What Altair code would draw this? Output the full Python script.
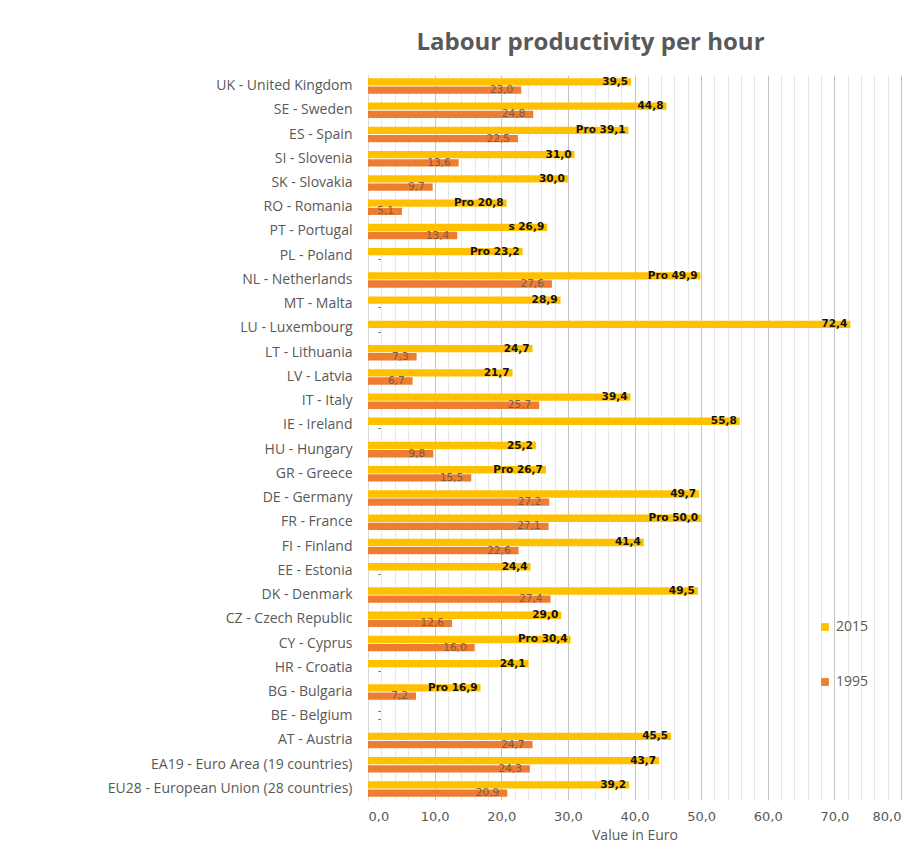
import altair as alt
import pandas as pd

categories = [
    "UK - United Kingdom", "SE - Sweden", "ES - Spain", "SI - Slovenia", "SK - Slovakia",
    "RO - Romania", "PT - Portugal", "PL - Poland", "NL - Netherlands", "MT - Malta",
    "LU - Luxembourg", "LT - Lithuania", "LV - Latvia", "IT - Italy", "IE - Ireland",
    "HU - Hungary", "GR - Greece", "DE - Germany", "FR - France", "FI - Finland",
    "EE - Estonia", "DK - Denmark", "CZ - Czech Republic", "CY - Cyprus", "HR - Croatia",
    "BG - Bulgaria", "BE - Belgium", "AT - Austria", "EA19 - Euro Area (19 countries)",
    "EU28 - European Union (28 countries)",
]
values_2015 = [39.5, 44.8, 39.1, 31.0, 30.0, 20.8, 26.9, 23.2, 49.9, 28.9,
               72.4, 24.7, 21.7, 39.4, 55.8, 25.2, 26.7, 49.7, 50.0, 41.4,
               24.4, 49.5, 29.0, 30.4, 24.1, 16.9, None, 45.5, 43.7, 39.2]
flags_2015 = ["", "", "Pro ", "", "", "Pro ", "s ", "Pro ", "Pro ", "",
              "", "", "", "", "", "", "Pro ", "", "Pro ", "",
              "", "", "", "Pro ", "", "Pro ", "", "", "", ""]
values_1995 = [23.0, 24.8, 22.5, 13.6, 9.7, 5.1, 13.4, None, 27.6, None,
               None, 7.3, 6.7, 25.7, None, 9.8, 15.5, 27.2, 27.1, 22.6,
               None, 27.4, 12.6, 16.0, None, 7.2, None, 24.7, 24.3, 20.9]
years = ["2015", "1995"]
colors = ["#FFC000", "#ED7D31"]

rows = []
for i, c in enumerate(categories):
    for yr, vals, flags in (("2015", values_2015, flags_2015), ("1995", values_1995, None)):
        v = vals[i]
        if v is None:
            rows.append({"country": c, "year": yr, "value": 0.0, "has": False, "label": "-"})
        else:
            lab = f"{v:.1f}".replace(".", ",")
            if flags is not None:
                lab = flags[i] + lab
            rows.append({"country": c, "year": yr, "value": v, "has": True, "label": lab})
df = pd.DataFrame(rows)

FONT = "Open Sans"
NUMFONT = "DejaVu Sans"
GRAY = "#595959"

y_enc = alt.Y("country:N", sort=categories,
              scale=alt.Scale(paddingInner=0.36, paddingOuter=0.135),
              axis=alt.Axis(title=None, ticks=False, domain=True, domainColor="#d9d9d9",
                            labelColor=GRAY, labelFontSize=14, labelFont=FONT, labelLimit=0,
                            labelPadding=16, grid=False))
yoff = alt.YOffset("year:N", sort=years, scale=alt.Scale(paddingInner=0.1))

x_vals = list(range(0, 81, 2))
x_enc = alt.X("value:Q", scale=alt.Scale(domain=[0, 80], nice=False),
              axis=alt.Axis(values=x_vals, title="Value in Euro", ticks=False, domain=False,
                            labelExpr="datum.value % 10 == 0 ? replace(format(datum.value, '.1f'), '.', ',') : ''",
                            labelColor=GRAY, labelFontSize=13, labelFont=NUMFONT, labelPadding=10,
                            titleColor=GRAY, titleFontSize=14, titleFont=FONT, titleFontWeight="normal",
                            titlePadding=5,
                            gridColor=alt.condition("datum.value % 10 == 0", alt.value("#c4c4c4"), alt.value("#e8e8e8")),
                            labelOverlap=False))

base = alt.Chart(df)

bars = base.mark_bar().encode(
    x=x_enc, y=y_enc, yOffset=yoff,
    color=alt.Color("year:N", sort=years,
                    scale=alt.Scale(domain=years, range=colors),
                    legend=alt.Legend(title=None, orient="none", legendX=450, legendY=545,
                                      symbolType="square", symbolSize=60, symbolStrokeWidth=0,
                                      labelFontSize=14, labelColor=GRAY, labelFont=FONT,
                                      rowPadding=41)),
).transform_filter("datum.has")

lab15 = base.mark_text(align="right", baseline="middle", dx=-3, fontSize=10.5,
                       fontWeight="bold", color="#111111", font=NUMFONT).encode(
    x=x_enc, y=y_enc, yOffset=yoff, text="label:N"
).transform_filter("datum.has && datum.year == '2015'")

lab95 = base.mark_text(align="right", baseline="middle", dx=-8, fontSize=10.5,
                       color="#7a5a48", font=NUMFONT).encode(
    x=x_enc, y=y_enc, yOffset=yoff, text="label:N"
).transform_filter("datum.has && datum.year == '1995'")

dash = base.mark_text(align="left", baseline="middle", dx=10, fontSize=8,
                      color="#111111", font=NUMFONT).encode(
    x=x_enc, y=y_enc, yOffset=yoff, text="label:N"
).transform_filter("!datum.has")

chart = alt.layer(bars, lab15, lab95, dash).properties(
    width=533, height=725,
    title=alt.TitleParams("Labour productivity per hour", fontSize=24, font=FONT,
                          fontWeight="bold", color=GRAY, anchor="middle", dx=-44, offset=20),
    padding={"left": 368, "top": 75, "right": 23, "bottom": 63},
    autosize=alt.AutoSizeParams(type="none"),
    background="white",
).configure_view(stroke=None)

chart.save("out.html", embed_options={"renderer": "svg", "actions": False})
